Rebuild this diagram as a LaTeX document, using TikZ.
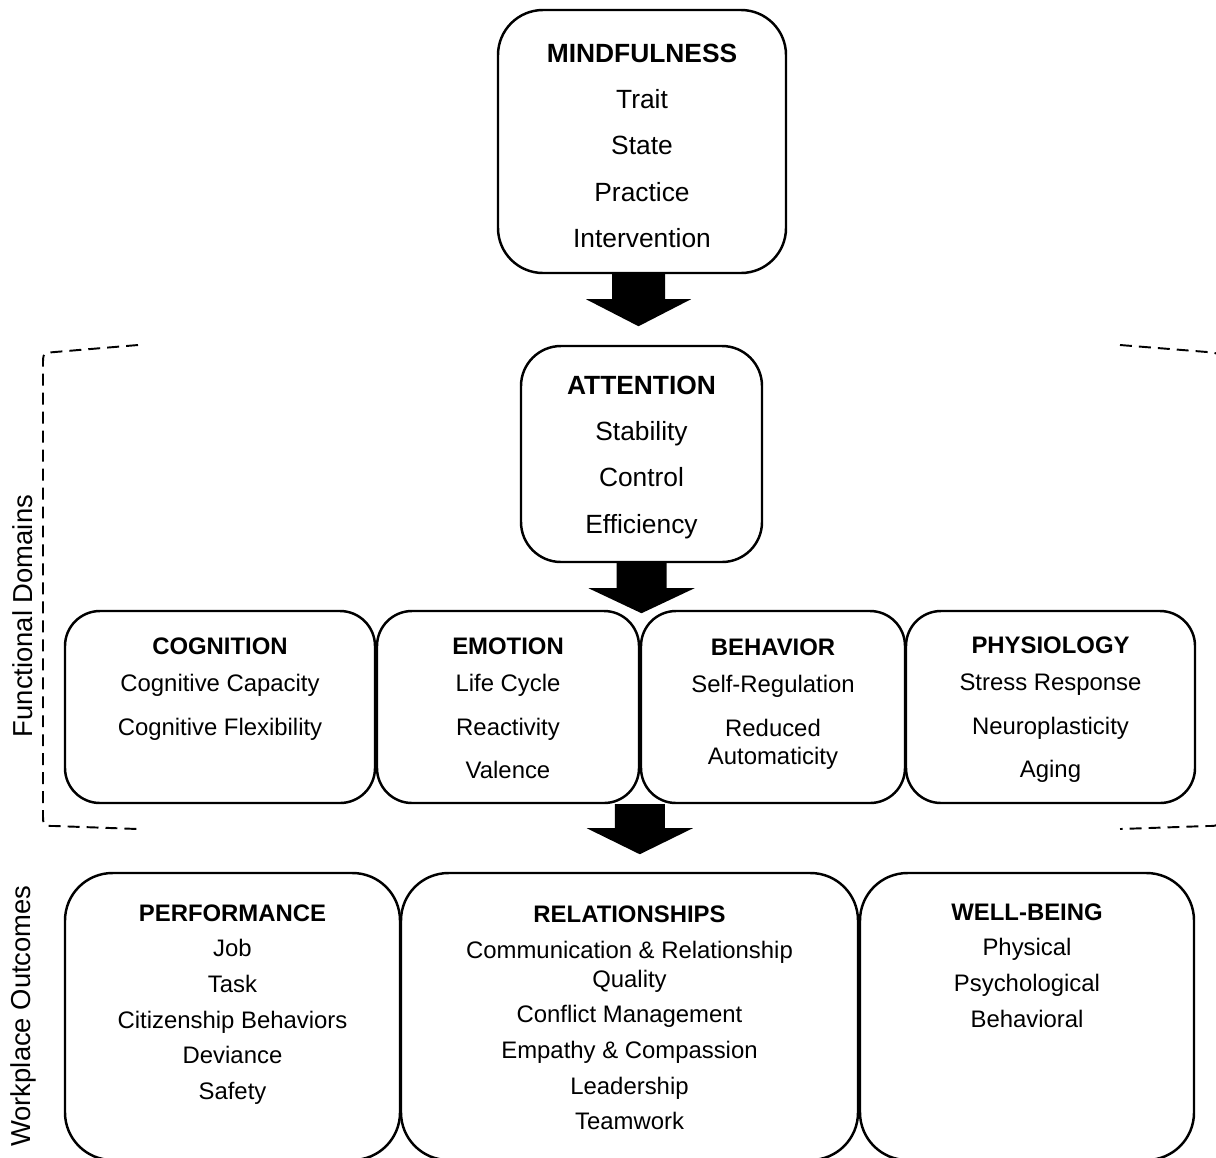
\documentclass[tikz,border=0pt]{standalone}
\usepackage{fontspec}
\setmainfont{Liberation Sans}
\usetikzlibrary{fit,positioning}

\begin{document}
\begin{tikzpicture}[x=0.02cm,y=-0.02cm,
  box/.style={draw,line width=1.4pt,inner sep=0pt},
  toptext/.style={align=center,inner sep=0pt,anchor=north,font=\fontsize{15}{26.4}\selectfont},
  rowtext/.style={align=center,inner sep=0pt,anchor=north,font=\fontsize{13.6}{24.7}\selectfont},
  outtext/.style={align=center,inner sep=0pt,anchor=north,font=\fontsize{13.6}{20.3}\selectfont},
  sidelabel/.style={rotate=90,inner sep=0pt,font=\fontsize{15.6}{18}\selectfont},
  brace/.style={line width=1.1pt,dash pattern=on 6.8pt off 4pt},
  bigarrow/.style={fill=black}]
\useasboundingbox (0,0) rectangle (1216,1157);
\clip (0,0) rectangle (1216,1157);

% boxes
\node[box,rounded corners=0.9cm,fit={(498,10) (786,273)}] (mind) {};
\node[box,rounded corners=0.8cm,fit={(521,346) (762,562)}] (att) {};
\node[box,rounded corners=0.7cm,fit={(65,611) (375,803)}] (cog) {};
\node[box,rounded corners=0.7cm,fit={(377,611) (639,803)}] (emo) {};
\node[box,rounded corners=0.7cm,fit={(641,611) (905,803)}] (beh) {};
\node[box,rounded corners=0.7cm,fit={(906,611) (1195,803)}] (phys) {};
\node[box,rounded corners=0.95cm,fit={(65,873) (400,1160)}] (perf) {};
\node[box,rounded corners=0.95cm,fit={(401,873) (858,1160)}] (rel) {};
\node[box,rounded corners=0.95cm,fit={(860,873) (1194,1160)}] (well) {};

% texts
\node[toptext,below=0.69cm of mind.north] (mindtxt) {\textbf{MINDFULNESS}\\Trait\\State\\Practice\\Intervention};
\node[toptext,below=0.61cm of att.north] (atttxt) {\textbf{ATTENTION}\\Stability\\Control\\Efficiency};
\node[rowtext,below=0.56cm of cog.north] (cogtxt) {\textbf{COGNITION}\\[-3.6pt]Cognitive Capacity\\Cognitive Flexibility};
\node[rowtext,below=0.56cm of emo.north] (emotxt) {\textbf{EMOTION}\\[-3.6pt]Life Cycle\\Reactivity\\Valence};
\node[rowtext,below=0.58cm of beh.north] (behtxt) {\textbf{BEHAVIOR}\\[-3.6pt]Self-Regulation\\Reduced\\[-8.7pt]Automaticity};
\node[rowtext,below=0.54cm of phys.north] (phystxt) {\textbf{PHYSIOLOGY}\\[-3.6pt]Stress Response\\Neuroplasticity\\Aging};
\node[outtext,below=0.65cm of perf.north] (perftxt) {\textbf{PERFORMANCE}\\Job\\Task\\Citizenship Behaviors\\Deviance\\Safety};
\node[outtext,below=0.68cm of rel.north] (reltxt) {\textbf{RELATIONSHIPS}\\Communication \& Relationship\\[-3.9pt]Quality\\Conflict Management\\Empathy \& Compassion\\Leadership\\Teamwork};
\node[outtext,below=0.63cm of well.north] (welltxt) {\textbf{WELL-BEING}\\Physical\\Psychological\\Behavioral};

\node[sidelabel] (fdlabel) at (23,616) {Functional Domains};
\node[sidelabel] (wolabel) at (23,1016) {Workplace Outcomes};

% block arrows
\fill[bigarrow] (mind.south) ++(-30,0) -- ++(0,25) -- ++(-26,0) -- ++(52.5,27) -- ++(52.5,-27) -- ++(-26,0) -- ++(0,-25) -- cycle;
\fill[bigarrow] (att.south) ++(-25,0) -- ++(0,25) -- ++(-28,0) -- ++(53,25) -- ++(53,-25) -- ++(-28,0) -- ++(0,-25) -- cycle;
\fill[bigarrow] (beh.south west) ++(-25,0) -- ++(0,24) -- ++(-28,0) -- ++(53,26) -- ++(53,-26) -- ++(-28,0) -- ++(0,-24) -- cycle;

% dashed brackets
\draw[brace] (138,345) -- (55,352) .. controls (43,353) .. (43,365) -- (43,813) .. controls (43,826) .. (55,826) -- (138,829);
\draw[brace] (1120,345) -- (1207,352) .. controls (1219,353) .. (1219,365) -- (1219,813) .. controls (1219,826) .. (1207,826) -- (1120,829);

\end{tikzpicture}
\end{document}
